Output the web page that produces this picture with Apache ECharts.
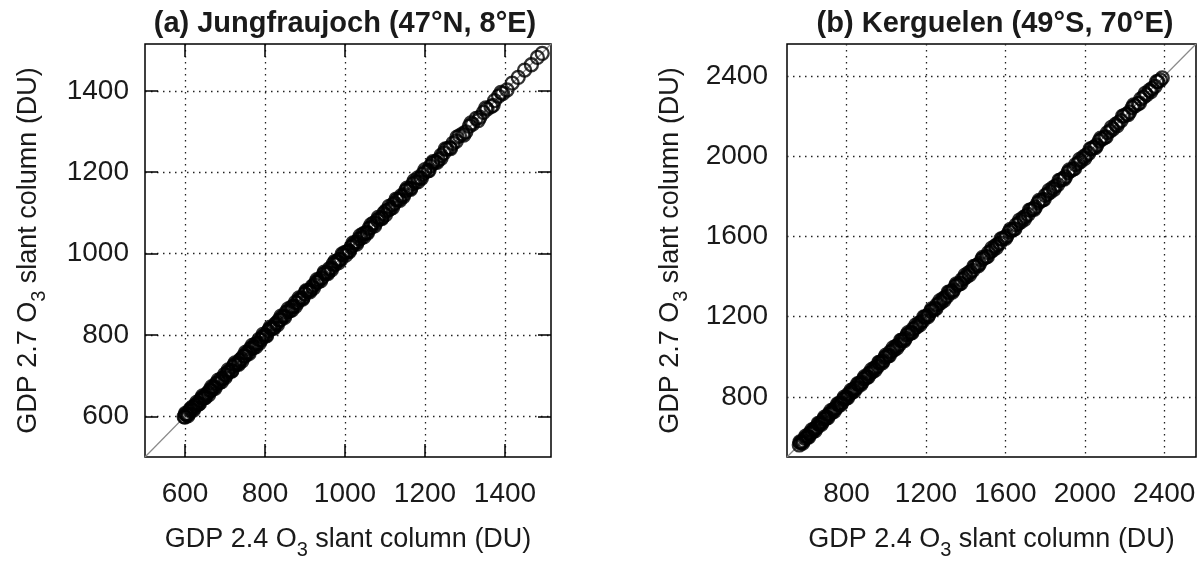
<!DOCTYPE html>
<html>
<head>
<meta charset="utf-8">
<title>GDP 2.4 vs GDP 2.7 O3 slant columns</title>
<script src="https://cdn.jsdelivr.net/npm/echarts@6/dist/echarts.min.js"></script>
<style>
  html, body { margin: 0; padding: 0; background: #fff; }
  #chart { width: 1204px; height: 565px; }
</style>
</head>
<body>
<div id="chart"></div>
<script>
// Panel titles
const titleA = '(a) Jungfraujoch (47°N, 8°E)';
const titleB = '(b) Kerguelen (49°S, 70°E)';

// Axis ranges and tick labels
const rangeA = [500, 1515];
const ticksA = [600, 800, 1000, 1200, 1400];
const rangeB = [500, 2560];
const ticksB = [800, 1200, 1600, 2000, 2400];

// 1:1 reference line end points
const diagA = [[500, 500], [1515, 1515]];
const diagB = [[500, 500], [2560, 2560]];

// Jungfraujoch: [GDP 2.4, GDP 2.7] slant columns (DU)
const jfjPairs = [
  [598,599],[600,598],[602,605],[605,604],[609,606],[612,614],[616,615],[619,623],[623,621],[627,628],
  [630,630],[634,630],[638,640],[642,645],[646,645],[649,646],[653,654],[658,658],[662,664],[665,663],
  [670,671],[674,672],[678,681],[682,682],[686,683],[690,692],[694,693],[699,703],[703,701],[707,708],
  [711,711],[716,712],[720,722],[724,727],[728,727],[733,730],[737,738],[741,741],[746,748],[750,748],
  [754,755],[759,757],[763,766],[768,768],[772,769],[776,778],[781,780],[785,789],[790,788],[794,795],
  [799,799],[803,799],[808,810],[812,815],[817,816],[821,818],[826,827],[830,830],[835,837],[839,837],
  [844,845],[848,846],[853,856],[858,858],[862,859],[867,869],[871,870],[876,880],[881,879],[885,886],
  [890,890],[895,891],[899,901],[904,907],[909,908],[913,910],[918,919],[923,923],[928,930],[932,930],
  [937,938],[942,940],[947,950],[951,951],[956,953],[961,963],[966,965],[971,975],[975,973],[980,981],
  [985,985],[990,986],[995,997],[1000,1003],[1005,1004],[1010,1007],[1015,1016],[1020,1020],[1025,1027],[1030,1028],
  [1035,1036],[1040,1038],[1045,1048],[1050,1050],[1055,1052],[1060,1062],[1065,1064],[1071,1075],[1076,1074],[1081,1082],
  [1086,1086],[1092,1088],[1097,1099],[1102,1105],[1108,1107],[1113,1110],[1119,1120],[1124,1124],[1130,1132],[1135,1133],
  [1141,1142],[1147,1145],[1152,1155],[1158,1158],[1164,1161],[1170,1172],[1176,1175],[1182,1186],[1188,1186],[1194,1195],
  [1200,1200],[1207,1203],[1213,1215],[1219,1222],[1226,1225],[1233,1230],[1240,1241],[1247,1247],[1255,1257],[1262,1260],
  [1270,1271],[1278,1276],[1286,1289],[1294,1294],[1302,1299],[1311,1313],[1319,1318],[1328,1332],[1337,1335],[1346,1347],
  [1355,1355],[1365,1361],[1374,1376],[1384,1387],[1394,1393],[1405,1402],[1418,1419],[1433,1433],[1449,1451],[1466,1464],
  [1481,1482],[1493,1492],
  [601,607],[607,601],[614,619],[621,615],[629,634],[636,631],[644,650],[651,646],[659,653],[667,673],
  [675,669],[683,689],[691,685],[700,695],[708,714],[717,711],[725,731],[734,728],[742,736],[751,757],
  [760,754],[768,774],[777,771],[786,780],[795,801],[804,798],[813,819],[822,816],[831,825],[840,846],
  [849,843],[858,864],[867,861],[876,870],[885,891],[894,888],[903,909],[912,906],[921,915],[930,936],
  [939,933],[948,954],[957,951],[966,960],[975,981],[984,978],[993,999],[1002,996],[1011,1005],[1020,1026],
  [1029,1023],[1038,1044],[1047,1041],[1056,1050],[1065,1071],[1074,1068],[1083,1089],[1092,1086],[1101,1095],[1110,1116],
  [1119,1113],[1128,1134],[1137,1131],[1146,1140],[1155,1161],[1164,1158],[1173,1179],[1182,1176],[1191,1185],[1200,1206],
  [1210,1204],[1220,1226],[1230,1224],[1240,1234],[1251,1257],[1264,1258],[1280,1286],[1297,1291],[1315,1321],[1333,1327],
  [1352,1358],[1370,1364],[1390,1396]
];

// Kerguelen: [GDP 2.4, GDP 2.7] slant columns (DU)
const kerPairs = [
  [562,560],[568,571],[575,574],[583,580],[590,593],[598,597],[606,602],[613,616],[621,620],[629,626],
  [637,640],[645,644],[653,649],[661,665],[669,668],[677,673],[685,689],[693,692],[701,697],[709,713],
  [717,716],[726,721],[734,738],[742,741],[750,746],[759,763],[767,766],[775,770],[784,788],[792,791],
  [800,795],[809,813],[817,816],[826,821],[834,839],[843,842],[851,846],[860,864],[869,868],[877,872],
  [886,890],[895,894],[903,898],[912,916],[921,920],[930,925],[939,943],[948,947],[957,952],[966,970],
  [975,974],[984,979],[993,997],[1002,1001],[1011,1006],[1020,1024],[1030,1029],[1039,1034],[1048,1052],[1058,1057],
  [1067,1062],[1077,1081],[1086,1085],[1096,1091],[1105,1109],[1115,1114],[1125,1120],[1134,1138],[1144,1143],[1154,1149],
  [1164,1168],[1174,1173],[1184,1179],[1194,1198],[1204,1203],[1214,1209],[1224,1228],[1234,1233],[1244,1239],[1255,1259],
  [1265,1264],[1275,1270],[1286,1290],[1296,1295],[1307,1302],[1317,1321],[1328,1327],[1338,1333],[1349,1353],[1360,1359],
  [1370,1365],[1381,1385],[1392,1391],[1403,1398],[1414,1418],[1425,1424],[1436,1431],[1447,1451],[1458,1457],[1469,1464],
  [1481,1485],[1492,1491],[1503,1498],[1515,1519],[1526,1525],[1537,1532],[1549,1553],[1560,1559],[1572,1567],[1584,1588],
  [1595,1594],[1607,1602],[1619,1623],[1631,1630],[1642,1637],[1654,1658],[1666,1665],[1678,1673],[1690,1694],[1702,1701],
  [1715,1710],[1727,1731],[1739,1738],[1751,1746],[1764,1768],[1776,1775],[1788,1783],[1801,1805],[1813,1812],[1826,1821],
  [1838,1842],[1851,1850],[1864,1859],[1876,1880],[1889,1888],[1902,1897],[1915,1919],[1928,1927],[1941,1936],[1954,1958],
  [1967,1966],[1980,1975],[1993,1997],[2006,2005],[2020,2015],[2033,2037],[2046,2045],[2060,2055],[2073,2077],[2087,2086],
  [2100,2095],[2114,2118],[2127,2126],[2141,2136],[2155,2159],[2169,2168],[2183,2178],[2197,2201],[2211,2210],[2225,2220],
  [2239,2243],[2253,2252],[2268,2263],[2282,2286],[2296,2295],[2311,2306],[2325,2329],[2339,2338],[2354,2349],[2368,2372],
  [2381,2380],[2390,2391],
  [565,575],[579,569],[594,604],[609,599],[625,635],[641,631],[657,667],[673,663],[689,699],[705,695],
  [721,731],[738,728],[755,765],[771,761],[788,798],[805,795],[822,832],[839,829],[856,866],[873,863],
  [891,901],[908,898],[926,936],[944,934],[962,972],[980,970],[998,1008],[1016,1006],[1035,1045],[1053,1043],
  [1072,1082],[1091,1081],[1110,1120],[1129,1119],[1149,1159],[1169,1159],[1189,1199],[1209,1199],[1229,1239],[1250,1240],
  [1270,1280],[1291,1281],[1312,1322],[1333,1323],[1354,1364],[1376,1366],[1397,1407],[1419,1409],[1441,1451],[1463,1453],
  [1486,1496],[1509,1499],[1532,1542],[1555,1545],[1578,1588],[1601,1591],[1625,1635],[1648,1638],[1672,1682],[1696,1686],
  [1721,1731],[1745,1735],[1770,1780],[1795,1785],[1820,1830],[1845,1835],[1870,1880],[1896,1886],[1922,1932],[1948,1938],
  [1974,1984],[2000,1990],[2027,2037],[2053,2043],[2080,2090],[2107,2097],[2134,2144],[2162,2152],[2190,2200],[2218,2208],
  [2246,2256],[2275,2265],[2304,2314],[2333,2323],[2362,2372]
];

const xName = 'GDP 2.4 O{sub|3} slant column (DU)';
const yName = 'GDP 2.7 O{sub|3} slant column (DU)';

const FONT = '"Liberation Sans", Arial, Helvetica, sans-serif';
const INK = '#1a1a1a';

const nameRich = {
  main: { fontSize: 27, lineHeight: 32, verticalAlign: 'top', color: INK, fontFamily: FONT },
  sub: { fontSize: 20, lineHeight: 20, padding: [14, 0, 0, 0], verticalAlign: 'top', color: INK, fontFamily: FONT }
};
function richName(s) {
  return s.split('{sub|3}').map(p => '{main|' + p + '}').join('{sub|3}');
}

const gridLine = { show: true, lineStyle: { color: '#222', width: 1.3, type: [1.5, 4.5] } };
const tickLabel = { fontSize: 28, color: INK, fontFamily: FONT, formatter: v => String(v) };

function mainAxis(gridIndex, range, ticks, withTicks, labelMargin, extra) {
  return Object.assign({
    type: 'value', gridIndex, min: range[0], max: range[1],
    axisLine: { show: false },
    axisTick: { show: withTicks, inside: true, length: 13, customValues: ticks, lineStyle: { color: '#000', width: 1.5 } },
    axisLabel: Object.assign({ customValues: ticks, margin: labelMargin }, tickLabel),
    splitLine: gridLine
  }, extra);
}
function mirrorAxis(gridIndex, range, ticks, position) {
  return {
    type: 'value', gridIndex, position, min: range[0], max: range[1],
    axisLine: { show: false },
    axisTick: { show: true, inside: true, length: 13, customValues: ticks, lineStyle: { color: '#000', width: 1.5 } },
    axisLabel: { show: false },
    splitLine: { show: false }
  };
}

const xNameOpts = {
  position: 'bottom', name: richName(xName), nameLocation: 'middle', nameGap: 69,
  nameTextStyle: { rich: nameRich }
};
const yNameOpts = {
  position: 'left', name: richName(yName), nameLocation: 'middle', nameGap: 98,
  nameTextStyle: { rich: nameRich }
};

const scatterStyle = {
  type: 'scatter', symbol: 'circle', symbolSize: 13,
  itemStyle: { color: 'rgba(0,0,0,0)', borderColor: '#000', borderWidth: 2.3 },
  z: 3, silent: true
};
const diagStyle = {
  type: 'line', symbol: 'none', silent: true, z: 2,
  lineStyle: { color: '#8a8a8a', width: 1.2 }
};

const titleStyle = { fontSize: 29, fontWeight: 'bold', color: INK, fontFamily: FONT };

const chart = echarts.init(document.getElementById('chart'), null, { renderer: 'canvas' });
chart.setOption({
  backgroundColor: '#ffffff',
  animation: false,
  title: [
    { text: titleA, left: 340, top: 4, textAlign: 'center', textStyle: titleStyle },
    { text: titleB, left: 990, top: 4, textAlign: 'center', textStyle: titleStyle }
  ],
  grid: [
    { left: 145, top: 44, width: 406, height: 417, show: true, borderColor: '#000', borderWidth: 1.5, backgroundColor: 'transparent' },
    { left: 787, top: 44, width: 409, height: 417, show: true, borderColor: '#000', borderWidth: 1.5, backgroundColor: 'transparent' }
  ],
  xAxis: [
    mainAxis(0, rangeA, ticksA, true, 23, xNameOpts),
    mirrorAxis(0, rangeA, ticksA, 'top'),
    mainAxis(1, rangeB, ticksB, false, 23, xNameOpts)
  ],
  yAxis: [
    mainAxis(0, rangeA, ticksA, true, 16, yNameOpts),
    mirrorAxis(0, rangeA, ticksA, 'right'),
    mainAxis(1, rangeB, ticksB, false, 19, yNameOpts)
  ],
  series: [
    Object.assign({ xAxisIndex: 0, yAxisIndex: 0, data: diagA }, diagStyle),
    Object.assign({ xAxisIndex: 0, yAxisIndex: 0, data: jfjPairs }, scatterStyle),
    Object.assign({ xAxisIndex: 2, yAxisIndex: 2, data: diagB }, diagStyle),
    Object.assign({ xAxisIndex: 2, yAxisIndex: 2, data: kerPairs }, scatterStyle)
  ]
});
</script>
</body>
</html>
